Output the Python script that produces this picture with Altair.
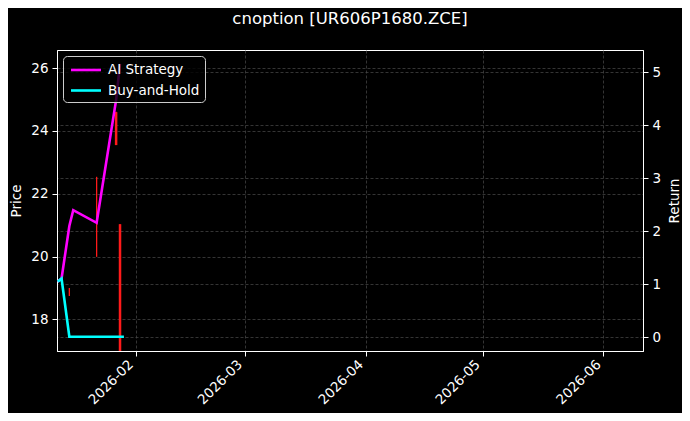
import altair as alt
import pandas as pd

# ---- data ----
line_dates = ["2026-01-12", "2026-01-13", "2026-01-15", "2026-01-16",
              "2026-01-22", "2026-01-27", "2026-01-28", "2026-01-29"]
ai_strategy = [1.05, 1.11, 2.10, 2.40, 2.16, 4.48, 5.16, None]
buy_and_hold = [1.05, 1.11, 0.01, 0.01, 0.01, 0.01, 0.01, 0.01]

candle_dates = ["2026-01-15", "2026-01-22", "2026-01-27", "2026-01-28"]
opens = [18.88, 21.00, 24.60, 21.03]
highs = [19.00, 22.54, 24.61, 21.03]
lows = [18.74, 19.99, 23.55, 16.50]
closes = [18.88, 21.00, 23.55, 16.50]

series_names = ["AI Strategy", "Buy-and-Hold"]
series_colors = ["#ff00ff", "#00ffff"]
month_ticks = [2, 3, 4, 5, 6]
price_ticks = [18, 20, 22, 24, 26]
return_ticks = [0, 1, 2, 3, 4, 5]

# ---- tables ----
rows = []
for name, vals in zip(series_names, [ai_strategy, buy_and_hold]):
    for d, v in zip(line_dates, vals):
        if v is not None:
            rows.append({"date": pd.Timestamp(d), "series": name, "value": v})
lines_df = pd.DataFrame(rows)

candles_df = pd.DataFrame({
    "date": pd.to_datetime(candle_dates),
    "open": opens, "high": highs, "low": lows, "close": closes,
})

FONT = "DejaVu Sans"

x_scale = alt.Scale(domain=[alt.DateTime(year=2026, month=1, date=11, hours=20),
                            alt.DateTime(year=2026, month=6, date=11, hours=4)])
x_axis = alt.Axis(values=[alt.DateTime(year=2026, month=m, date=1) for m in month_ticks],
                  format="%Y-%m", labelAngle=-45, labelAlign="right", labelBaseline="bottom",
                  title=None, grid=True, tickSize=5, labelPadding=11)

price_scale = alt.Scale(domain=[16.99, 26.58], nice=False, zero=False)
price_axis = alt.Axis(title="Price", values=price_ticks, orient="left", grid=True,
                      tickSize=5, labelPadding=4, titlePadding=7)

ret_scale = alt.Scale(domain=[-0.258, 5.42], nice=False, zero=False)
ret_axis = alt.Axis(title="Return", values=return_ticks, orient="right", grid=True,
                    tickSize=5, labelPadding=4, titlePadding=7, titleAngle=270,
                    titleBaseline="top")

wick = alt.Chart(candles_df).mark_rule(color="#ff1a1a", strokeWidth=1.3, clip=True).encode(
    x=alt.X("date:T", scale=x_scale, axis=x_axis),
    y=alt.Y("low:Q", scale=price_scale, axis=price_axis),
    y2="high:Q",
)
body = alt.Chart(candles_df).mark_rule(color="#ff1a1a", strokeWidth=2.5, clip=True).encode(
    x=alt.X("date:T", scale=x_scale, axis=x_axis),
    y=alt.Y("open:Q", scale=price_scale, axis=price_axis),
    y2="close:Q",
)
candles = alt.layer(wick, body)

legend = alt.Legend(title=None, orient="top-left", offset=6, symbolType="M-0.8,0L3.2,0",
                    symbolSize=225, symbolStrokeWidth=2.6, labelFontSize=13.5,
                    labelColor="white", labelFont=FONT, fillColor="rgba(0,0,0,0.8)",
                    strokeColor="#cccccc", cornerRadius=4, padding=5, rowPadding=4.5,
                    labelOffset=22)

lines = alt.Chart(lines_df).mark_line(strokeWidth=2.6, clip=True).encode(
    x=alt.X("date:T", scale=x_scale, axis=x_axis),
    y=alt.Y("value:Q", scale=ret_scale, axis=ret_axis),
    color=alt.Color("series:N", scale=alt.Scale(domain=series_names, range=series_colors),
                    legend=legend),
    order=alt.Order("date:T"),
)

chart = alt.layer(candles, lines).resolve_scale(y="independent").properties(
    width=586,
    height=301,
    title=alt.Title("cnoption [UR606P1680.ZCE]", fontSize=16.5, color="white",
                    fontWeight="normal", font=FONT, anchor="middle", offset=23),
    autosize=alt.AutoSizeParams(type="none"),
    padding={"left": 49, "top": 42, "right": 39, "bottom": 62},
).configure(background="black", font=FONT).configure_view(
    stroke="white", strokeWidth=1
).configure_axis(
    domainColor="white", tickColor="white", labelColor="white", titleColor="white",
    labelFontSize=13.5, titleFontSize=13.5, titleFontWeight="normal", labelFont=FONT,
    titleFont=FONT, gridColor="#4a4a4a", gridDash=[3, 2], gridWidth=0.7,
)

chart.save("out.html", embed_options={"renderer": "svg", "actions": False})
